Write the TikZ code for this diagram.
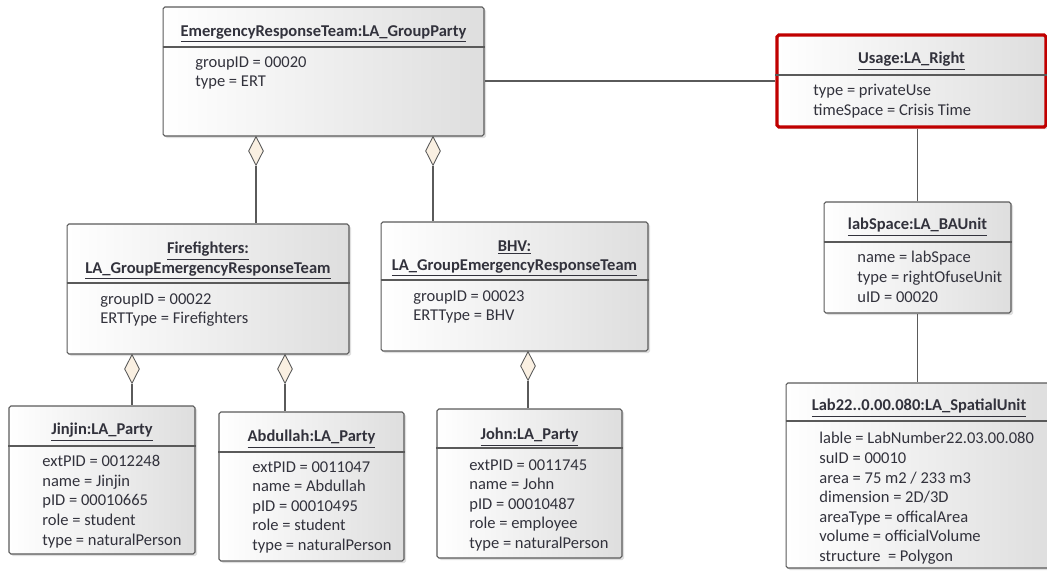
\documentclass[tikz,border=0pt]{standalone}
\usepackage{fontspec}
\setmainfont{Carlito}
\usepackage{xcolor}
\definecolor{umltext}{RGB}{50,50,60}
\definecolor{umlline}{RGB}{90,90,90}
\definecolor{umlred}{RGB}{192,0,0}
\definecolor{umlagg}{RGB}{250,240,226}
\definecolor{umlshade}{RGB}{222,222,222}
\usetikzlibrary{shapes.geometric,shadows}

\begin{document}
\begin{tikzpicture}[x=0.02cm,y=-0.02cm,
  obj/.style={draw=umlline,line width=0.6pt,rounded corners=1pt,left color=white,right color=umlshade,
    drop shadow={opacity=0.25,shadow xshift=1.2pt,shadow yshift=-1.2pt},inner sep=0pt},
  objred/.style={obj,draw=umlred,line width=1.8pt},
  ttl/.style={anchor=north,inner sep=0pt,align=center,text=umltext,font=\fontsize{9.4}{11.1}\selectfont\bfseries},
  attr/.style={anchor=north west,inner sep=0pt,align=left,text=umltext,font=\fontsize{9.4}{11.15}\selectfont},
  sep/.style={draw=umlline,line width=0.6pt},
  link/.style={draw=umlline,line width=0.6pt},
  agg/.style={shape=diamond,draw=umlline,fill=umlagg,line width=0.5pt,
    minimum width=0.3cm,minimum height=0.58cm,inner sep=0pt,anchor=north}]
  \useasboundingbox (0,0) rectangle (1047,571);

  % group party and right
  \node[obj,minimum width=6.42cm,minimum height=2.58cm] (ert) at (323.5,71.5) {};
  \node[ttl] (ertT) at (323.5,25) {\underline{EmergencyResponseTeam:LA\_GroupParty}};
  \draw[sep] (ert.west |- 0,47) -- (ert.east |- 0,47);
  \node[attr] (ertA) at (195,56) {groupID = 00020\\type = ERT};

  \node[objred,minimum width=5.38cm,minimum height=1.84cm] (use) at (911.5,81) {};
  \node[ttl] (useT) at (911.5,52) {\underline{Usage:LA\_Right}};
  \draw[sep] (use.west |- 0,75) -- (use.east |- 0,75);
  \node[attr] (useA) at (813,84) {type = privateUse\\timeSpace = Crisis Time};

  \node[obj,minimum width=3.74cm,minimum height=2.22cm] (lab) at (917.5,257.5) {};
  \node[ttl] (labT) at (917.5,218) {\underline{labSpace:LA\_BAUnit}};
  \draw[sep] (lab.west |- 0,242) -- (lab.east |- 0,242);
  \node[attr] (labA) at (857,251) {name = labSpace\\type = rightOfuseUnit\\uID = 00020};

  \node[obj,minimum width=5.32cm,minimum height=3.7cm] (spu) at (919,475.5) {};
  \node[ttl] (spuT) at (919,399) {\underline{Lab22..0.00.080:LA\_SpatialUnit}};
  \draw[sep] (spu.west |- 0,421) -- (spu.east |- 0,421);
  \node[attr] (spuA) at (819,432) {lable = LabNumber22.03.00.080\\suID = 00010\\area = 75 m2 / 233 m3\\
    dimension = 2D/3D\\areaType = officalArea\\volume = officialVolume\\structure \ = Polygon};

  % emergency response teams
  \node[obj,minimum width=5.64cm,minimum height=2.6cm] (ff) at (208,289) {};
  \node[ttl] (ffT) at (208,242) {\underline{Firefighters:}\\\underline{LA\_GroupEmergencyResponseTeam}};
  \draw[sep] (ff.west |- 0,283) -- (ff.east |- 0,283);
  \node[attr] (ffA) at (100,293) {groupID = 00022\\ERTType = Firefighters};

  \node[obj,minimum width=5.34cm,minimum height=2.58cm] (bhv) at (514.5,286.5) {};
  \node[ttl] (bhvT) at (514.5,240) {\underline{BHV:}\\\underline{LA\_GroupEmergencyResponseTeam}};
  \draw[sep] (bhv.west |- 0,280) -- (bhv.east |- 0,280);
  \node[attr] (bhvA) at (413,290) {groupID = 00023\\ERTType = BHV};

  % parties
  \node[obj,minimum width=3.72cm,minimum height=2.96cm] (jin) at (102,480) {};
  \node[ttl] (jinT) at (102,423) {\underline{Jinjin:LA\_Party}};
  \draw[sep] (jin.west |- 0,446) -- (jin.east |- 0,446);
  \node[attr] (jinA) at (42,455) {extPID = 0012248\\name = Jinjin\\pID = 00010665\\role = student\\type = naturalPerson};

  \node[obj,minimum width=3.7cm,minimum height=2.98cm] (abd) at (311.5,486.5) {};
  \node[ttl] (abdT) at (311.5,430) {\underline{Abdullah:LA\_Party}};
  \draw[sep] (abd.west |- 0,452) -- (abd.east |- 0,452);
  \node[attr] (abdA) at (252,461) {extPID = 0011047\\name = Abdullah\\pID = 00010495\\role = student\\type = naturalPerson};

  \node[obj,minimum width=3.7cm,minimum height=2.98cm] (john) at (529.5,483.5) {};
  \node[ttl] (johnT) at (529.5,428) {\underline{John:LA\_Party}};
  \draw[sep] (john.west |- 0,448) -- (john.east |- 0,448);
  \node[attr] (johnA) at (469,459) {extPID = 0011745\\name = John\\pID = 00010487\\role = employee\\type = naturalPerson};

  % aggregations
  \node[agg] (aggFF) at (256,136) {};
  \node[agg] (aggBHV) at (433,136) {};
  \node[agg] (aggJin) at (132,354) {};
  \node[agg] (aggAbd) at (285,354) {};
  \node[agg] (aggJohn) at (528,351) {};
  \draw[link] (aggFF.south) -- (aggFF.south |- ff.north);
  \draw[link] (aggBHV.south) -- (aggBHV.south |- bhv.north);
  \draw[link] (aggJin.south) -- (aggJin.south |- jin.north);
  \draw[link] (aggAbd.south) -- (aggAbd.south |- abd.north);
  \draw[link] (aggJohn.south) -- (aggJohn.south |- john.north);

  % associations
  \draw[link] (use.west) -- (use.west -| ert.east);
  \draw[link] (lab.north) -- (lab.north |- use.south);
  \draw[link] (lab.south) -- (lab.south |- spu.north);
\end{tikzpicture}
\end{document}
